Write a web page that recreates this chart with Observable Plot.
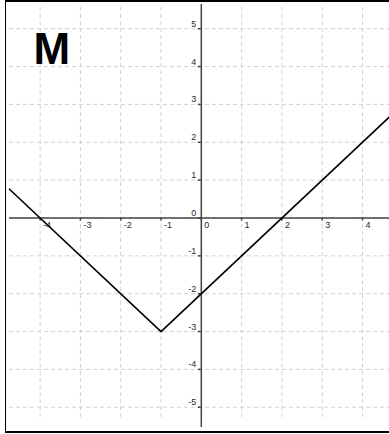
<!DOCTYPE html>
<html><head><meta charset="utf-8">
<script src="https://cdn.jsdelivr.net/npm/d3@7"></script>
<script src="https://cdn.jsdelivr.net/npm/@observablehq/plot@0.6"></script>
<style>
body{margin:0;background:#fff;}
#wrap{position:relative;width:389px;height:434px;overflow:hidden;}
#border{position:absolute;left:5px;top:0;width:400px;height:429px;border-left:1px solid #000;border-top:2px solid #000;border-bottom:2px solid #000;pointer-events:none;}
#chart{position:absolute;left:0;top:0;}
</style></head><body>
<div id="wrap"><div id="chart"></div><div id="border"></div></div>
<script>
const xTicks = [-4, -3, -2, -1, 0, 1, 2, 3, 4];
const yTicks = [-5, -4, -3, -2, -1, 0, 1, 2, 3, 4, 5];
const curveX = [-4.76, -1, 4.67];
const curveY = [0.76, -3, 2.67];
const panelLabel = "M";

const xDomain = [-4.76, 4.67];
const yDomain = [-5.535, 5.64];
const gridYBottom = -5.27;

const curve = curveX.map((x, i) => ({x, y: curveY[i]}));
const font = "'Liberation Sans', Arial, sans-serif";

const chart = Plot.plot({
  width: 389,
  height: 434,
  marginLeft: 9,
  marginRight: 0,
  marginTop: 4,
  marginBottom: 7,
  style: {fontFamily: font, background: "transparent", overflow: "visible"},
  x: {domain: xDomain, axis: null},
  y: {domain: yDomain, axis: null},
  marks: [
    Plot.ruleX(xTicks, {x: d => d, y1: gridYBottom, y2: yDomain[1], stroke: "#d2d2d2", strokeWidth: 1, strokeDasharray: "4,3"}),
    Plot.ruleY(yTicks, {y: d => d, x1: xDomain[0], x2: xDomain[1], stroke: "#d2d2d2", strokeWidth: 1, strokeDasharray: "4,3"}),
    Plot.ruleY([0], {stroke: "#444", strokeWidth: 1.5}),
    Plot.ruleX([0], {stroke: "#444", strokeWidth: 1.5}),
    Plot.ruleX(xTicks, {x: d => d, y1: 0, y2: -0.08, stroke: "#444", strokeWidth: 1.5}),
    Plot.ruleY(yTicks, {y: d => d, x1: -0.075, x2: 0, stroke: "#444", strokeWidth: 1.5}),
    Plot.text(xTicks, {x: d => d, y: 0, text: d => String(d), textAnchor: "start", lineAnchor: "top", dx: 3, dy: 4, fontSize: 9, fill: "#2a2a2a"}),
    Plot.text(yTicks, {x: 0, y: d => d, text: d => String(d), textAnchor: "end", lineAnchor: "bottom", dx: -5, dy: -2, fontSize: 9, fill: "#2a2a2a"}),
    Plot.line(curve, {x: "x", y: "y", stroke: "#000", strokeWidth: 1.6}),
    Plot.text([panelLabel], {frameAnchor: "top-left", text: d => d, textAnchor: "start", lineAnchor: "bottom", dx: 24, dy: 59, fontSize: 44, fontWeight: "bold", fill: "#000"})
  ]
});
document.getElementById("chart").appendChild(chart);
</script>
</body></html>
